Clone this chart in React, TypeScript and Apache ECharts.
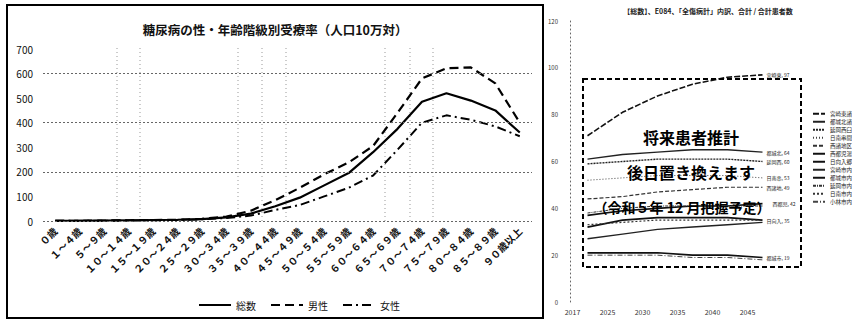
import React, { useEffect, useRef } from 'react';
import * as echarts from 'echarts';

// ---------- left chart data ----------
const ageCategories = [
  '０歳', '１～４歳', '５～９歳', '１０～１４歳', '１５～１９歳', '２０～２４歳',
  '２５～２９歳', '３０～３４歳', '３５～３９歳', '４０～４４歳', '４５～４９歳',
  '５０～５４歳', '５５～５９歳', '６０～６４歳', '６５～６９歳', '７０～７４歳',
  '７５～７９歳', '８０～８４歳', '８５～８９歳', '９０歳以上',
];
const totalRate = [1, 1, 2, 3, 4, 5, 8, 15, 30, 60, 95, 145, 195, 280, 375, 485, 520, 490, 450, 360];
const maleRate = [1, 1, 2, 3, 4, 5, 9, 18, 42, 85, 135, 190, 238, 305, 440, 580, 622, 625, 560, 400];
const femaleRate = [1, 1, 1, 2, 3, 4, 7, 12, 22, 45, 65, 100, 135, 185, 290, 400, 430, 412, 385, 345];
const leftGridValues = [0, 200, 400, 600];
const leftTitle = '糖尿病の性・年齢階級別受療率（人口10万対）';
const leftLegend = ['総数', '男性', '女性'];

// ---------- right chart data ----------
const years = ['2017', '2025', '2030', '2035', '2040', '2045'];
const rightTitle = '【総数】、E084、「全傷病計」内訳、合計 / 合計患者数';
const projNames = [
  '宮崎東諸', '都城北諸', '延岡西臼', '日南串間', '西諸地区', '西都児湯',
  '日向入郷', '宮崎市内', '都城市内', '延岡市内', '日南市内', '小林市内',
];
const projA = [71, 81, 88, 93, 96, 97];
const projB = [61, 63, 64, 65, 65, 64];
const projC = [59, 60, 61, 61, 61, 60];
const projD = [52, 53, 54, 54, 54, 53];
const projE = [44, 45, 47, 48, 49, 49];
const projF = [37, 39, 40, 41, 41, 42];
const projG = [32, 35, 36, 36, 36, 35];
const projH = [27, 29, 31, 32, 33, 34];
const projI = [21, 21, 21, 20, 20, 19];
const projJ = [38, 40, 41, 41, 41, 41];
const projK = [33, 34, 35, 35, 35, 35];
const projL = [20, 20, 20, 19, 19, 18];
const projValues = [projA, projB, projC, projD, projE, projF, projG, projH, projI, projJ, projK, projL];
const projLabelShown = [true, true, true, true, true, true, true, false, true, false, false, false];
const projStyles: { type: any; width: number; color: string }[] = [
  { type: [6, 2], width: 1.6, color: '#111' },
  { type: 'solid', width: 1.4, color: '#222' },
  { type: [2, 1], width: 1.4, color: '#222' },
  { type: [1, 2], width: 1, color: '#444' },
  { type: [4, 2], width: 1.2, color: '#333' },
  { type: 'solid', width: 1.6, color: '#111' },
  { type: 'solid', width: 1.8, color: '#111' },
  { type: 'solid', width: 1.4, color: '#222' },
  { type: 'solid', width: 1.6, color: '#111' },
  { type: [3, 1, 1, 1], width: 1, color: '#333' },
  { type: [2, 2], width: 1.2, color: '#333' },
  { type: [5, 2, 1, 2], width: 1, color: '#444' },
];
const overlayTexts = ['将来患者推計', '後日置き換えます', '（令和５年 12 月把握予定）'];

const FONT = '"Noto Sans CJK JP", "Noto Sans", sans-serif';
const scanVerticals = [117, 140, 238, 262, 286, 385, 410, 433];

export default function App() {
  const ref = useRef<HTMLDivElement>(null);
  useEffect(() => {
    if (!ref.current) return;
    const chart = echarts.init(ref.current, undefined, { renderer: 'svg' });

    const rightSeries = projNames.map((name, i) => ({
      name,
      type: 'line',
      xAxisIndex: 1,
      yAxisIndex: 1,
      data: projValues[i],
      symbol: 'none',
      lineStyle: projStyles[i],
      itemStyle: { color: projStyles[i].color },
      endLabel: {
        show: projLabelShown[i],
        fontSize: 5,
        color: '#222',
        fontFamily: FONT,
        distance: 4,
        offset: i === 5 ? [6, 0] : [0, 0],
        formatter: (p: any) => `${p.seriesName.slice(0, 3)}, ${p.value}`,
      },
      z: 3,
    }));

    chart.setOption({
      animation: false,
      backgroundColor: '#fff',
      textStyle: { fontFamily: FONT },
      title: [
        {
          text: leftTitle,
          left: 270,
          top: 18,
          textAlign: 'center',
          textStyle: { fontSize: 12.5, fontWeight: 'bold', color: '#111', fontFamily: FONT },
        },
        {
          text: rightTitle,
          left: 703,
          top: 2,
          textAlign: 'center',
          textStyle: { fontSize: 7, fontWeight: 'bold', color: '#222', fontFamily: FONT },
        },
      ],
      legend: [
        {
          data: leftLegend,
          left: 193,
          top: 295,
          itemWidth: 32,
          itemHeight: 8,
          itemGap: 14,
          itemStyle: { opacity: 0 },
          textStyle: { fontSize: 10, color: '#111', fontFamily: FONT },
        },
        {
          data: projNames,
          orient: 'vertical',
          left: 812,
          top: 111,
          itemWidth: 12,
          itemHeight: 6,
          itemGap: 2.5,
          padding: 0,
          itemStyle: { opacity: 0 },
          textStyle: { fontSize: 5.5, color: '#222', fontFamily: FONT },
        },
      ],
      grid: [
        { left: 43, right: 320, top: 49, bottom: 99, containLabel: false },
        { left: 570, right: 72, top: 21, bottom: 18, containLabel: false },
      ],
      xAxis: [
        {
          type: 'category',
          gridIndex: 0,
          data: ageCategories,
          boundaryGap: true,
          axisLine: { show: false },
          axisTick: { show: false },
          axisLabel: {
            rotate: 45,
            interval: 0,
            fontSize: 10,
            fontWeight: 'bold',
            color: '#111',
            margin: 8,
            fontFamily: FONT,
          },
        },
        {
          type: 'category',
          gridIndex: 1,
          data: years,
          boundaryGap: true,
          axisLine: { show: false },
          axisTick: { show: false },
          axisLabel: { fontSize: 7, color: '#333', margin: 6, padding: [0, 30, 0, 0], fontFamily: FONT },
        },
      ],
      yAxis: [
        {
          type: 'value',
          gridIndex: 0,
          min: 0,
          max: 700,
          interval: 100,
          axisLine: { show: false },
          axisTick: { show: false },
          splitLine: { show: false },
          axisLabel: { fontSize: 10, color: '#111', margin: 10, fontFamily: FONT },
        },
        {
          type: 'value',
          gridIndex: 1,
          min: 0,
          max: 120,
          interval: 20,
          axisLine: { show: true, lineStyle: { type: [1, 3], color: '#666', width: 1 } },
          axisTick: { show: false },
          splitLine: { show: false },
          axisLabel: { fontSize: 6, color: '#333', margin: 12, fontFamily: FONT },
        },
      ],
      series: [
        {
          name: '総数',
          type: 'line',
          xAxisIndex: 0,
          yAxisIndex: 0,
          data: totalRate,
          symbol: 'none',
          lineStyle: { type: 'solid', width: 2.2, color: '#000' },
          itemStyle: { color: '#000' },
          markLine: {
            silent: true,
            symbol: 'none',
            label: { show: false },
            lineStyle: { type: [2, 2], color: '#666', width: 1 },
            data: leftGridValues.map((v) => ({ yAxis: v })),
          },
          z: 3,
        },
        {
          name: '男性',
          type: 'line',
          xAxisIndex: 0,
          yAxisIndex: 0,
          data: maleRate,
          symbol: 'none',
          lineStyle: { type: [9, 5], width: 2.2, color: '#000' },
          itemStyle: { color: '#000' },
          z: 3,
        },
        {
          name: '女性',
          type: 'line',
          xAxisIndex: 0,
          yAxisIndex: 0,
          data: femaleRate,
          symbol: 'none',
          lineStyle: { type: [9, 4, 2, 4], width: 2, color: '#000' },
          itemStyle: { color: '#000' },
          z: 3,
        },
        ...rightSeries,
      ],
      graphic: [
        {
          type: 'rect',
          shape: { x: 7, y: 5, width: 536, height: 313 },
          style: { fill: 'none', stroke: '#000', lineWidth: 2 },
          silent: true,
        },
        ...scanVerticals.map((x) => ({
          type: 'line',
          shape: { x1: x, y1: 48, x2: x, y2: 222 },
          style: { stroke: '#999', lineWidth: 1, lineDash: [1, 3] },
          silent: true,
        })),
        {
          type: 'rect',
          shape: { x: 583, y: 79, width: 218, height: 188 },
          style: { fill: 'none', stroke: '#000', lineWidth: 2, lineDash: [5, 3] },
          silent: true,
          z: 20,
        },
        ...overlayTexts.map((t, i) => ({
          type: 'text',
          x: [691, 691, 682][i],
          y: [137, 172, 207][i],
          z: 21,
          silent: true,
          style: {
            text: t,
            font: `bold ${i === 2 ? 14 : 16}px ${FONT}`,
            fill: '#000',
            textAlign: 'center',
            textVerticalAlign: 'middle',
            verticalAlign: 'middle',
          },
        })),
      ],
    });
    return () => chart.dispose();
  }, []);

  return (
    <div
      ref={ref}
      style={{ position: 'fixed', left: 0, top: 0, width: 852, height: 320, background: '#fff' }}
    />
  );
}
